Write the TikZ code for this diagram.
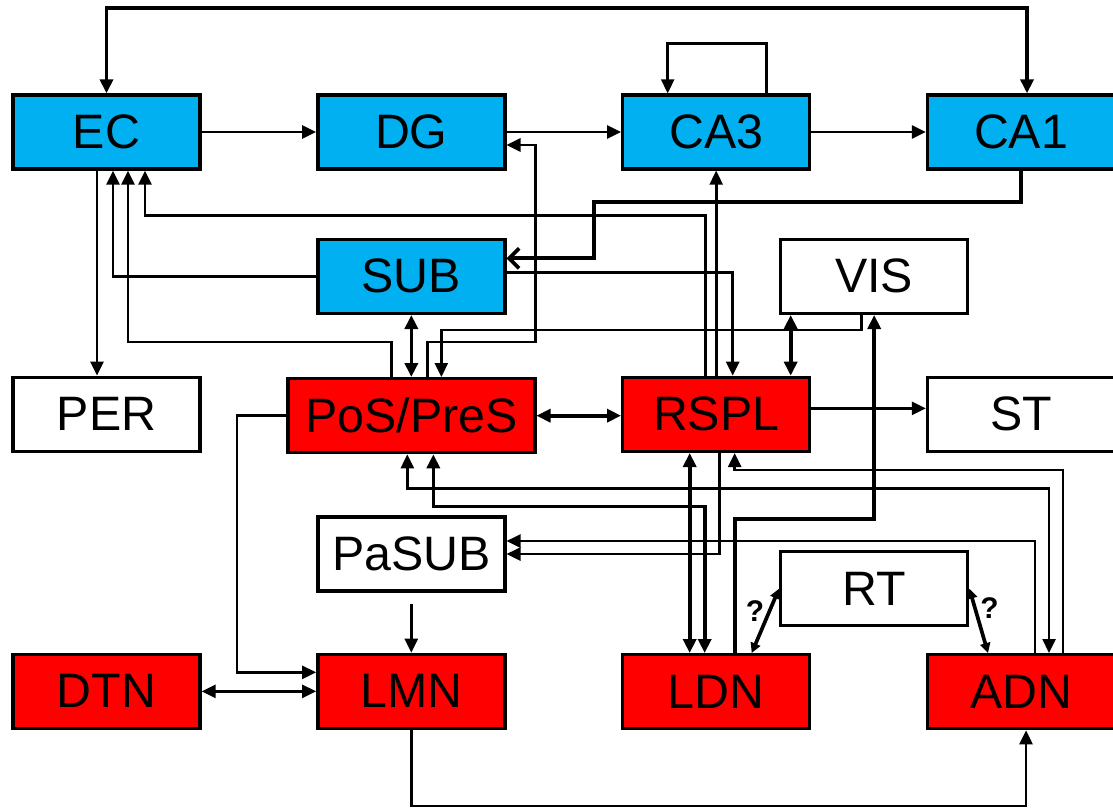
\documentclass[tikz,border=0pt]{standalone}
\usepackage{fontspec}
\setmainfont{Liberation Sans}
\usepackage{tikz}
\usetikzlibrary{arrows.meta,positioning}
\definecolor{hipblue}{RGB}{0,176,240}
\definecolor{limred}{RGB}{255,0,0}

\begin{document}
\begin{tikzpicture}[
        node distance=1.34cm and 2.29cm,
        >={Triangle[length=2.8mm,width=2.6mm]},
        regbox/.style={rectangle, draw=black, line width=1.9pt, minimum width=3.74cm, minimum height=1.48cm, inner sep=0pt, font=\fontsize{27.5}{31}\selectfont},
        hip/.style={regbox, fill=hipblue},
        lim/.style={regbox, fill=limred},
        link/.style={draw, line width=1.5pt},
        heavy/.style={draw, line width=2.1pt},
        query/.style={font=\bfseries\fontsize{17}{20}\selectfont, inner sep=2pt}
    ]
        \useasboundingbox (0,0) rectangle (22.26,-16.2);

        % Hippocampal formation
        \node[hip] (EC) at (2.13,-2.64) {EC};
        \node[hip, right=of EC] (DG) {DG};
        \node[hip, right=of DG] (CA3) {CA3};
        \node[hip, right=of CA3] (CA1) {CA1};
        \node[hip, below=of DG] (SUB) {SUB};
        \node[regbox, right=5.45cm of SUB] (VIS) {VIS};

        % Middle row
        \node[regbox, below=4.1cm of EC] (PER) {PER};
        \node[lim, below=1.24cm of SUB, minimum width=4.94cm] (PoS) {PoS/PreS};
        \node[lim, below=4.1cm of CA3] (RSPL) {RSPL};
        \node[regbox, right=of RSPL] (ST) {ST};

        % Lower rows
        \node[regbox, below=1.22cm of PoS] (PaSUB) {PaSUB};
        \node[lim, below=1.2cm of PaSUB] (LMN) {LMN};
        \node[lim, left=of LMN] (DTN) {DTN};
        \node[lim, below=4.0cm of RSPL] (LDN) {LDN};
        \node[lim, right=of LDN] (ADN) {ADN};
        \node[regbox, below=4.7cm of VIS] (RT) {RT};

        % Trisynaptic loop
        \draw[heavy, <->] (EC.north) -- ++(0,1.7) -| ([xshift=0.12cm]CA1.north);
        \draw[link, ->] (EC.east) -- (EC.east -| DG.west);
        \draw[link, ->] (DG.east) -- (CA3.west);
        \draw[link, ->] (CA3.east) -- (CA1.west);
        \draw[link, ->] ([xshift=1cm]CA3.north) -- ++(0,1.0) -| ([xshift=-0.97cm]CA3.north);
        \draw[heavy, -{Straight Barb[length=2mm,width=4mm]}] (CA1.south) |- ++(-8.54,-0.62) |- ([yshift=0.36cm]SUB.east);
        \draw[link, ->] ([xshift=-0.19cm]EC.south) -- ([xshift=-0.19cm]EC.south |- PER.north);

        % Subiculum
        \draw[link, ->] ([yshift=0.08cm]SUB.east) -| ([xshift=0.33cm]RSPL.north);
        \draw[link, ->] (SUB.west) -| ([xshift=0.13cm]EC.south);
        \draw[heavy, <->] (SUB.south) -- (SUB.south |- PoS.north);

        % Retrosplenial
        \draw[link, ->] (RSPL.north) -- (CA3.south);
        \draw[link, ->] ([xshift=-0.21cm]RSPL.north) -- ++(0,3.2) -| ([xshift=0.77cm]EC.south);
        \draw[heavy, <->] (PoS.east) -- (PoS.east -| RSPL.west);
        \draw[link, ->] ([yshift=0.12cm]RSPL.east) -- ([yshift=0.12cm]RSPL.east -| ST.west);
        \draw[heavy, <->] ([xshift=-0.53cm]RSPL.south) -- ([xshift=-0.53cm]LDN.north);
        \draw[link, ->] ([xshift=0.07cm]RSPL.south) |- (PaSUB.east);

        % PoS/PreS
        \draw[link, ->] ([xshift=-0.4cm]PoS.north) -- ++(0,0.7) -| ([xshift=0.43cm]EC.south);
        \draw[link, ->] ([xshift=0.32cm]PoS.north) -- ++(0,0.7) -- ++(2.16,0) |- ([yshift=-0.26cm]DG.east);
        \draw[link, ->] (PoS.west) -- ++(-0.98,0) |- ([yshift=0.38cm]LMN.west);
        \draw[link, <->] ([xshift=-0.08cm]PoS.south) -- ++(0,-0.68) -| ([xshift=0.56cm]ADN.north);
        \draw[heavy, <->] ([xshift=0.44cm]PoS.south) -- ++(0,-1.04) -| ([xshift=-0.23cm]LDN.north);

        % Visual cortex
        \draw[link, ->] ([xshift=-0.25cm]VIS.south) -- ++(0,-0.3) -| ([xshift=0.6cm]PoS.north);
        \draw[heavy, <->] ([xshift=-1.67cm]VIS.south) -- ([xshift=-1.67cm]VIS.south |- RSPL.north);
        \draw[heavy, ->] ([xshift=0.37cm]LDN.north) -- ++(0,2.68) -| (VIS.south);

        % Thalamus
        \draw[link, ->] ([xshift=0.84cm]ADN.north) -- ++(0,3.66) -| ([xshift=0.37cm]RSPL.south);
        \draw[link, ->] ([xshift=0.28cm]ADN.north) |- ([yshift=0.26cm]PaSUB.east);
        \draw[link, ->] (LMN.south) -- ++(0,-1.52) -| ([xshift=0.1cm]ADN.south);
        \draw[link, <->] (DTN.east) -- (LMN.west);
        \draw[link, ->] ([yshift=-0.22cm]PaSUB.south) -- (LMN.north);
        \draw[heavy, <->, >={Triangle[length=2mm,width=2mm]}] (RT.west) -- node[query, left, pos=0.35] {?} ([xshift=0.71cm]LDN.north);
        \draw[heavy, <->, >={Triangle[length=2mm,width=2mm]}] (RT.east) -- node[query, right, pos=0.3] {?} ([xshift=-0.66cm]ADN.north);

    \end{tikzpicture}
\end{document}
